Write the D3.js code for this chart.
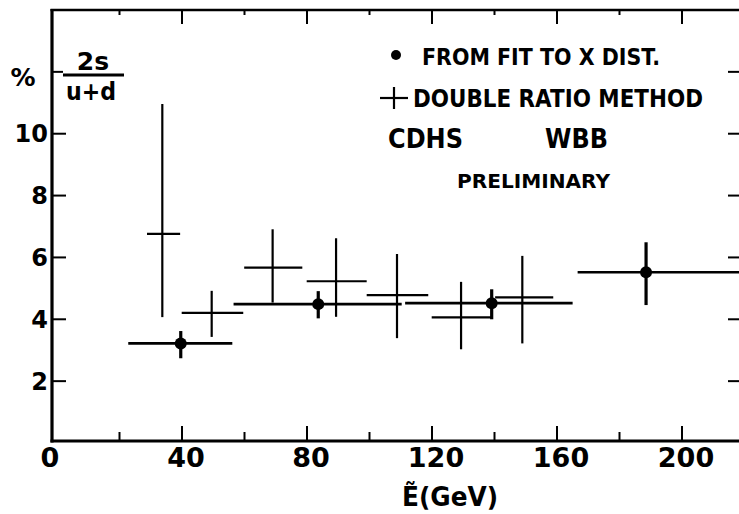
<!DOCTYPE html>
<html>
<head>
<meta charset="utf-8">
<script src="https://cdn.jsdelivr.net/npm/d3@7"></script>
<style>
  html, body { margin: 0; padding: 0; background: #fff; }
  svg { display: block; }
  text { font-family: "DejaVu Sans", sans-serif; fill: #000; }
</style>
</head>
<body>
<svg id="chart" width="739" height="514"></svg>
<script>
// Strange-sea fraction 2s/(u+d) in percent versus neutrino energy (CDHS, WBB)

// Fit to the x distribution (dots)
const fitEnergy     = [39.6, 83.6, 139.1, 188.5];
const fitEnergyLow  = [22.8, 56.5, 111.4, 166.6];
const fitEnergyHigh = [56.1, 110.3, 165.0, 225.0];
const fitRatio      = [3.22, 4.49, 4.52, 5.52];
const fitRatioLow   = [2.74, 4.03, 4.00, 4.46];
const fitRatioHigh  = [3.62, 4.91, 4.97, 6.49];

// Double ratio method (crosses)
const drEnergy     = [33.7, 49.5, 69.0, 89.3, 108.8, 129.3, 148.9];
const drEnergyLow  = [28.8, 39.9, 59.9, 79.9, 99.1, 119.9, 140.2];
const drEnergyHigh = [39.4, 59.6, 78.5, 99.1, 118.8, 139.1, 158.8];
const drRatio      = [6.76, 4.21, 5.67, 5.23, 4.78, 4.06, 4.71];
const drRatioLow   = [4.07, 3.43, 4.54, 4.08, 3.39, 3.03, 3.22];
const drRatioHigh  = [10.96, 4.92, 6.91, 6.62, 6.11, 5.21, 6.05];

// Axis ticks
const xMajorTicks = [0, 40, 80, 120, 160, 200];
const xMinorTicks = [20, 60, 100, 140, 180];
const yTicks = [2, 4, 6, 8, 10, 12];
const yTickLabels = ["2", "4", "6", "8", "10"];

const legendLines = ["FROM FIT TO X DIST.", "DOUBLE RATIO METHOD"];

const svg = d3.select("#chart");

const plotLeft = 52, plotTop = 10, plotBottom = 441, plotRight = 739;
const x = d3.scaleLinear().domain([0, 200]).range([57, 682]);
const y = d3.scaleLinear().domain([0, 14]).range([443, 10]);

// Frame: left, bottom and top edges
svg.append("line").attr("x1", plotLeft).attr("x2", plotLeft)
  .attr("y1", plotTop - 1).attr("y2", plotBottom + 1.5)
  .attr("stroke", "#000").attr("stroke-width", 3.2);
svg.append("line").attr("x1", plotLeft - 1.5).attr("x2", plotRight)
  .attr("y1", plotBottom).attr("y2", plotBottom)
  .attr("stroke", "#000").attr("stroke-width", 3);
svg.append("line").attr("x1", plotLeft - 1.5).attr("x2", plotRight)
  .attr("y1", plotTop).attr("y2", plotTop)
  .attr("stroke", "#000").attr("stroke-width", 2.6);

// Bottom and top ticks
const g = svg.append("g").attr("stroke", "#000");
xMajorTicks.filter(d => d > 0).forEach(d => {
  g.append("line").attr("x1", x(d)).attr("x2", x(d))
    .attr("y1", plotBottom).attr("y2", plotBottom - 15).attr("stroke-width", 2);
  g.append("line").attr("x1", x(d)).attr("x2", x(d))
    .attr("y1", plotTop).attr("y2", plotTop + 14).attr("stroke-width", 2);
});
xMinorTicks.forEach(d => {
  g.append("line").attr("x1", x(d)).attr("x2", x(d))
    .attr("y1", plotBottom).attr("y2", plotBottom - 9).attr("stroke-width", 2);
  g.append("line").attr("x1", x(d)).attr("x2", x(d))
    .attr("y1", plotTop).attr("y2", plotTop + 5).attr("stroke-width", 2);
});

// Left and right ticks
yTicks.forEach(d => {
  g.append("line").attr("x1", plotLeft).attr("x2", plotLeft + (d === 12 ? 11 : 14))
    .attr("y1", y(d)).attr("y2", y(d)).attr("stroke-width", 2);
  g.append("line").attr("x1", plotRight - 11).attr("x2", plotRight)
    .attr("y1", y(d)).attr("y2", y(d)).attr("stroke-width", 2);
});

// Tick labels
svg.selectAll(".xlab").data(xMajorTicks).enter().append("text")
  .attr("class", "xlab")
  .attr("x", d => d === 0 ? x(d) - 7 : x(d) + 4)
  .attr("y", 467)
  .attr("text-anchor", "middle")
  .attr("font-size", 27)
  .attr("font-weight", "bold")
  .text(d => d);

svg.selectAll(".ylab").data(yTickLabels).enter().append("text")
  .attr("class", "ylab")
  .attr("x", 48)
  .attr("y", d => y(+d) + 8.5)
  .attr("text-anchor", "end")
  .attr("font-size", 24)
  .attr("font-weight", "bold")
  .text(d => d);

// Axis titles
svg.append("text").attr("x", 450).attr("y", 506)
  .attr("text-anchor", "middle").attr("font-size", 27).attr("font-weight", "bold")
  .attr("textLength", 96).attr("lengthAdjust", "spacingAndGlyphs")
  .text("Ẽ(GeV)");

svg.append("text").attr("x", 23).attr("y", 86)
  .attr("text-anchor", "middle").attr("font-size", 25).attr("font-weight", "bold")
  .text("%");
svg.append("text").attr("x", 93).attr("y", 70)
  .attr("text-anchor", "middle").attr("font-size", 25).attr("font-weight", "bold")
  .text("2s");
svg.append("line").attr("x1", 63).attr("x2", 124).attr("y1", 75).attr("y2", 75)
  .attr("stroke", "#000").attr("stroke-width", 2.8);
svg.append("text").attr("x", 91).attr("y", 100)
  .attr("text-anchor", "middle").attr("font-size", 25).attr("font-weight", "bold")
  .attr("textLength", 50).attr("lengthAdjust", "spacingAndGlyphs")
  .text("u+d");

// Double ratio crosses
const dr = drEnergy.map((e, i) => ({
  e, eLo: drEnergyLow[i], eHi: drEnergyHigh[i],
  r: drRatio[i], rLo: drRatioLow[i], rHi: drRatioHigh[i]
}));
const crosses = svg.append("g").attr("stroke", "#000").attr("stroke-width", 2.2);
crosses.selectAll(".h").data(dr).enter().append("line")
  .attr("x1", d => x(d.eLo)).attr("x2", d => x(d.eHi))
  .attr("y1", d => y(d.r)).attr("y2", d => y(d.r));
crosses.selectAll(".v").data(dr).enter().append("line")
  .attr("x1", d => x(d.e)).attr("x2", d => x(d.e))
  .attr("y1", d => y(d.rLo)).attr("y2", d => y(d.rHi));

// Fit points with error bars
const fit = fitEnergy.map((e, i) => ({
  e, eLo: fitEnergyLow[i], eHi: fitEnergyHigh[i],
  r: fitRatio[i], rLo: fitRatioLow[i], rHi: fitRatioHigh[i]
}));
const dots = svg.append("g").attr("stroke", "#000");
dots.selectAll(".h").data(fit).enter().append("line")
  .attr("stroke-width", 2.7)
  .attr("x1", d => x(d.eLo)).attr("x2", d => x(d.eHi))
  .attr("y1", d => y(d.r)).attr("y2", d => y(d.r));
dots.selectAll(".v").data(fit).enter().append("line")
  .attr("stroke-width", 3.2)
  .attr("x1", d => x(d.e)).attr("x2", d => x(d.e))
  .attr("y1", d => y(d.rLo)).attr("y2", d => y(d.rHi));
dots.selectAll("circle").data(fit).enter().append("circle")
  .attr("cx", d => x(d.e)).attr("cy", d => y(d.r)).attr("r", 6)
  .attr("fill", "#000").attr("stroke", "none");

// Legend
svg.append("circle").attr("cx", 396).attr("cy", 55).attr("r", 5).attr("fill", "#000");
svg.append("text").attr("x", 422).attr("y", 65)
  .attr("font-size", 23).attr("font-weight", "bold")
  .attr("textLength", 238).attr("lengthAdjust", "spacingAndGlyphs")
  .text(legendLines[0]);
svg.append("line").attr("x1", 380).attr("x2", 408).attr("y1", 98).attr("y2", 98)
  .attr("stroke", "#000").attr("stroke-width", 2.2);
svg.append("line").attr("x1", 394).attr("x2", 394).attr("y1", 87).attr("y2", 109)
  .attr("stroke", "#000").attr("stroke-width", 2.2);
svg.append("text").attr("x", 413).attr("y", 107)
  .attr("font-size", 24).attr("font-weight", "bold")
  .attr("textLength", 290).attr("lengthAdjust", "spacingAndGlyphs")
  .text(legendLines[1]);
svg.append("text").attr("x", 388).attr("y", 148)
  .attr("font-size", 27).attr("font-weight", "bold")
  .attr("textLength", 75).attr("lengthAdjust", "spacingAndGlyphs")
  .text("CDHS");
svg.append("text").attr("x", 545).attr("y", 148)
  .attr("font-size", 27).attr("font-weight", "bold")
  .attr("textLength", 63).attr("lengthAdjust", "spacingAndGlyphs")
  .text("WBB");
svg.append("text").attr("x", 457).attr("y", 188)
  .attr("font-size", 20).attr("font-weight", "bold")
  .attr("textLength", 153).attr("lengthAdjust", "spacingAndGlyphs")
  .text("PRELIMINARY");
</script>
</body>
</html>
